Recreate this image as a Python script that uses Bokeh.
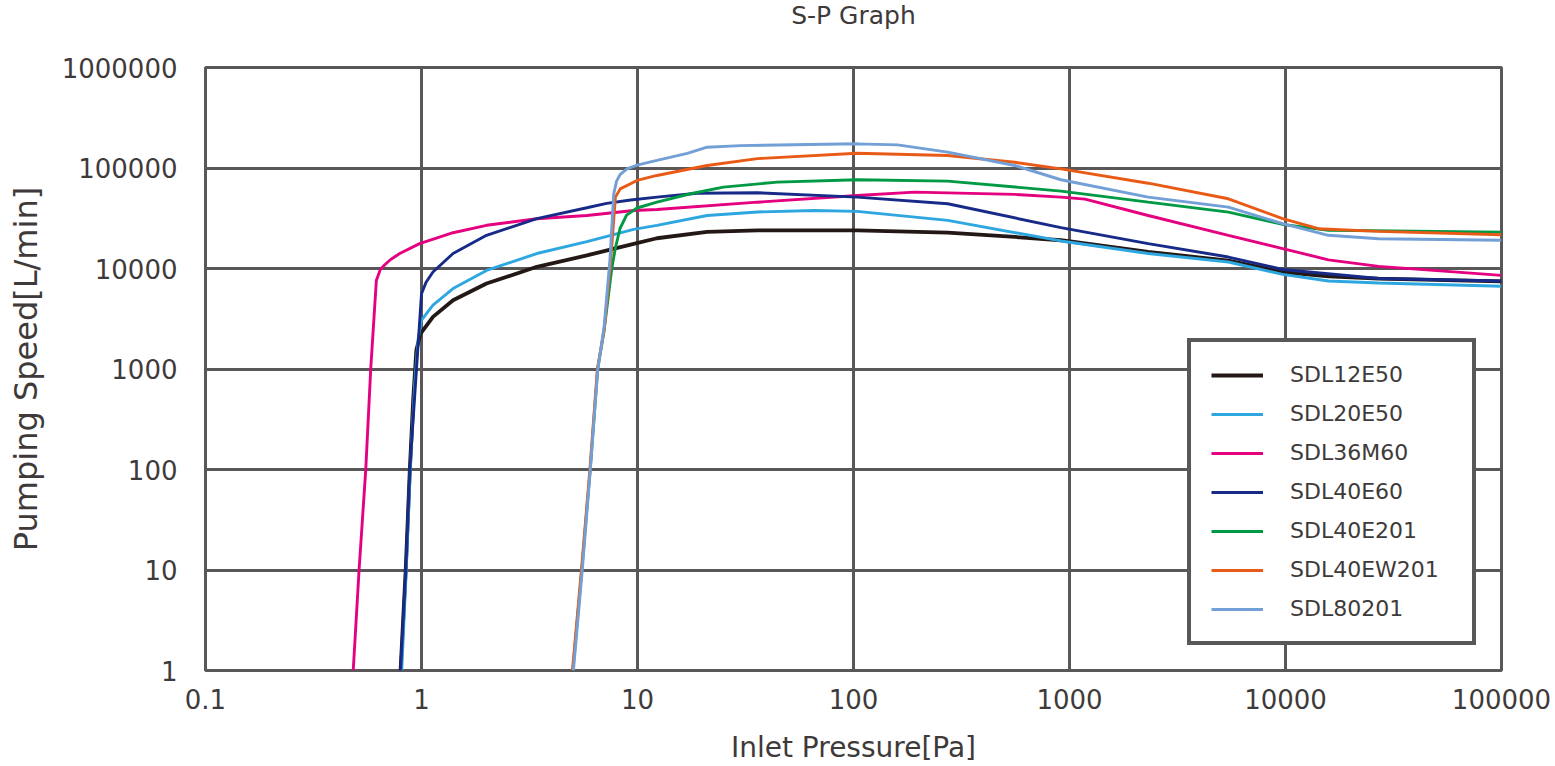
from bokeh.plotting import figure
from bokeh.models import Range1d, FixedTicker, CustomJSTickFormatter, Title
from bokeh.embed import file_html
from bokeh.resources import INLINE

# Inlet pressure [Pa] / pumping speed [L/min] for each pump model
sdl12e50_p = [0.80, 0.845, 0.883, 0.915, 0.947, 0.99, 1.13, 1.40, 2.0, 3.42, 5.83, 9.6, 12.3, 21, 36, 104, 273, 557, 913, 2313, 5440, 9700, 15800, 27000, 100000]
sdl12e50_s = [1, 10, 100, 490, 1550, 2250, 3300, 4830, 7080, 10400, 13500, 17600, 20000, 23100, 24000, 24000, 22700, 20600, 19100, 14600, 12000, 9230, 8330, 7940, 7460]

sdl20e50_p = [0.81, 0.85, 0.887, 0.93, 0.965, 1.0, 1.13, 1.40, 2.0, 3.42, 5.83, 9.6, 12.3, 21, 36, 66, 104, 273, 913, 2313, 5440, 9700, 15800, 27000, 100000]
sdl20e50_s = [1, 10, 100, 700, 2000, 3060, 4310, 6320, 9560, 14100, 18500, 24500, 26900, 33700, 36500, 37800, 37000, 30100, 18800, 14100, 11600, 8730, 7520, 7180, 6660]

sdl36m60_p = [0.483, 0.514, 0.552, 0.582, 0.618, 0.645, 0.676, 0.72, 0.793, 0.98, 1.40, 2.0, 3.42, 5.83, 9.6, 12.3, 35.9, 104, 192, 557, 913, 1180, 2313, 5440, 9700, 15800, 27000, 100000]
sdl36m60_s = [1, 10, 100, 1000, 7600, 9800, 10900, 12300, 14100, 17700, 22700, 26900, 31300, 33700, 37800, 38700, 45700, 53300, 57600, 54600, 51300, 49000, 33700, 21400, 15800, 12200, 10500, 8550]

sdl40e60_p = [0.80, 0.846, 0.883, 0.948, 1.0, 1.05, 1.13, 1.40, 2.0, 3.42, 5.83, 7.2, 9.3, 12.3, 18.9, 35.9, 104, 273, 913, 2313, 5440, 9700, 27000, 100000]
sdl40e60_s = [1, 10, 100, 1000, 5600, 7300, 9230, 14100, 21400, 31300, 40200, 44500, 48000, 51300, 56000, 56700, 51300, 44100, 25500, 17700, 13000, 9770, 7940, 7520]

sdl40e201_p = [5.02, 5.52, 6.04, 6.54, 7.0, 7.6, 7.9, 8.3, 8.9, 9.95, 12.3, 17.6, 25, 44.4, 104, 273, 913, 2313, 5440, 9700, 15800, 100000]
sdl40e201_s = [1, 10, 100, 1000, 2400, 10000, 16000, 25000, 34000, 40000, 45700, 55400, 64500, 72400, 76400, 74000, 58900, 45700, 36400, 27500, 24000, 23000]

sdl40ew201_p = [5.0, 5.5, 6.02, 6.52, 7.0, 7.5, 7.9, 8.32, 9.95, 12.3, 21, 35.9, 104, 273, 557, 913, 2313, 5440, 9700, 14200, 27000, 100000]
sdl40ew201_s = [1, 10, 100, 1000, 2400, 11200, 51300, 62000, 75200, 84300, 106000, 124000, 140000, 133000, 114000, 98000, 70600, 49400, 31300, 24900, 23400, 21700]

sdl80201_p = [5.05, 5.55, 6.05, 6.55, 7.0, 7.45, 7.76, 8.0, 8.3, 8.94, 9.95, 12.3, 17, 21, 30, 104, 160, 273, 557, 913, 2313, 5440, 9700, 15800, 27000, 100000]
sdl80201_s = [1, 10, 100, 1000, 2600, 12000, 55000, 74000, 86000, 98200, 107000, 119000, 140000, 161000, 167000, 174000, 170000, 144000, 106000, 76400, 51300, 40800, 27900, 21400, 19800, 19100]

models = ["SDL12E50", "SDL20E50", "SDL36M60", "SDL40E60", "SDL40E201", "SDL40EW201", "SDL80201"]
pressures = [sdl12e50_p, sdl20e50_p, sdl36m60_p, sdl40e60_p, sdl40e201_p, sdl40ew201_p, sdl80201_p]
speeds = [sdl12e50_s, sdl20e50_s, sdl36m60_s, sdl40e60_s, sdl40e201_s, sdl40ew201_s, sdl80201_s]
colors = ["#231815", "#2ea7e0", "#e4007f", "#172a88", "#009944", "#ea5a17", "#729fd6"]
widths = [3.8, 2.9, 2.9, 2.9, 2.9, 2.9, 2.9]

x_ticks = [0.1, 1, 10, 100, 1000, 10000, 100000]
y_ticks = [1, 10, 100, 1000, 10000, 100000, 1000000]

GRID = "#595757"
TEXT = "#3e3a39"
FONT = "DejaVu Sans"

p = figure(
    width=1555, height=766,
    x_axis_type="log", y_axis_type="log",
    x_range=Range1d(0.1, 100000), y_range=Range1d(1, 1000000),
    output_backend="svg", toolbar_location=None,
    min_border_left=205, min_border_right=54,
    min_border_top=67, min_border_bottom=95,
)
p.title = None
p.background_fill_color = "white"
p.border_fill_color = "white"
p.outline_line_color = GRID
p.outline_line_width = 3

# Blank band between the frame and the heading, then the heading itself on top
p.add_layout(Title(text=" ", text_font=FONT, text_font_size="25px", standoff=5), "above")
p.add_layout(Title(text="S-P Graph", align="center", vertical_align="top", standoff=0,
                   text_font=FONT, text_font_size="25px", text_font_style="normal",
                   text_color=TEXT), "above")

fmt = CustomJSTickFormatter(code="return tick < 1 ? tick.toString() : Math.round(tick).toString();")

for ax, ticks in ((p.xaxis[0], x_ticks), (p.yaxis[0], y_ticks)):
    ax.ticker = FixedTicker(ticks=ticks, minor_ticks=[])
    ax.formatter = fmt
    ax.axis_line_color = None
    ax.major_tick_line_color = None
    ax.minor_tick_line_color = None
    ax.major_label_text_font = FONT
    ax.major_label_text_font_size = "26px"
    ax.major_label_text_color = TEXT
    ax.axis_label_text_font = FONT
    ax.axis_label_text_font_style = "normal"
    ax.axis_label_text_color = TEXT

p.xaxis.axis_label = "Inlet Pressure[Pa]"
p.xaxis.axis_label_text_font_size = "28px"
p.xaxis.major_label_standoff = 12
p.xaxis.axis_label_standoff = 19

p.yaxis.axis_label = "Pumping Speed[L/min]"
p.yaxis.axis_label_text_font_size = "32px"
p.yaxis.major_label_standoff = 22
p.yaxis.axis_label_standoff = 14

for g in (p.xgrid[0], p.ygrid[0]):
    g.grid_line_color = GRID
    g.grid_line_width = 3
    g.grid_line_alpha = 1.0

for name, xs, ys, c, w in zip(models, pressures, speeds, colors, widths):
    p.line(xs, ys, line_color=c, line_width=w, legend_label=name)

lg = p.legend[0]
lg.location = "bottom_right"
lg.margin = 25
lg.padding = 20
lg.spacing = 14
lg.glyph_width = 52
lg.glyph_height = 24
lg.label_height = 24
lg.label_standoff = 27
lg.label_width = 162
lg.label_text_font = FONT
lg.label_text_font_size = "22px"
lg.label_text_color = TEXT
lg.border_line_color = GRID
lg.border_line_width = 4
lg.border_line_alpha = 1.0
lg.background_fill_color = "white"
lg.background_fill_alpha = 1.0

open("out.html", "w").write(file_html(p, INLINE))
